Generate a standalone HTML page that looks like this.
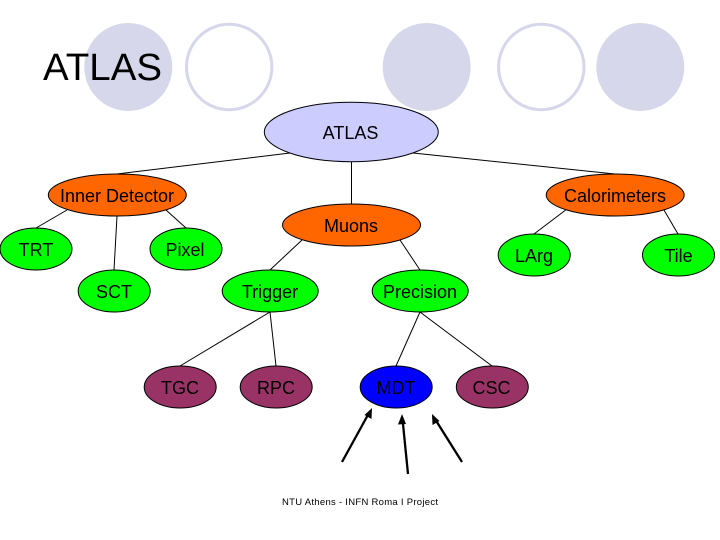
<!DOCTYPE html>
<html>
<head>
<meta charset="utf-8">
<style>
html,body{margin:0;padding:0;background:#fff;width:720px;height:540px;overflow:hidden}
svg{display:block}
text{font-family:"Liberation Sans",sans-serif;fill:#000;text-anchor:middle}
.n{font-size:18px}
ellipse.node{stroke:#000;stroke-width:1}
</style>
</head>
<body>
<svg width="720" height="540" viewBox="0 0 720 540" xmlns="http://www.w3.org/2000/svg">
<circle cx="128.3" cy="67" r="44" fill="#d7d7eb"/>
<circle cx="229.2" cy="67" r="42.7" fill="#fff" stroke="#d7d7eb" stroke-width="3"/>
<circle cx="426.7" cy="67" r="44" fill="#d7d7eb"/>
<circle cx="541.3" cy="67" r="42.7" fill="#fff" stroke="#d7d7eb" stroke-width="3"/>
<circle cx="640.3" cy="67" r="44" fill="#d7d7eb"/>
<text x="102.5" y="80" font-size="38" textLength="119" lengthAdjust="spacingAndGlyphs">ATLAS</text>

<g stroke="#000" stroke-width="1" fill="none">
<line x1="290" y1="153" x2="117" y2="174"/>
<line x1="413" y1="153" x2="615" y2="174"/>
<line x1="351.5" y1="162" x2="351.5" y2="204"/>
<line x1="67" y1="210" x2="36" y2="228"/>
<line x1="117" y1="216" x2="114" y2="270"/>
<line x1="166" y1="210" x2="186" y2="228"/>
<line x1="302" y1="240" x2="270" y2="270"/>
<line x1="400" y1="240" x2="420" y2="270"/>
<line x1="565.7" y1="210" x2="534" y2="234"/>
<line x1="664" y1="210" x2="678" y2="234"/>
<line x1="270" y1="312" x2="180" y2="366"/>
<line x1="270" y1="312" x2="276" y2="366"/>
<line x1="420" y1="312" x2="396" y2="366"/>
<line x1="420" y1="312" x2="492" y2="366"/>
</g>

<ellipse class="node" cx="351.3" cy="132" rx="87" ry="29.7" fill="#ccccff"/>
<ellipse class="node" cx="117.3" cy="195" rx="69" ry="21" fill="#ff6600"/>
<ellipse class="node" cx="615.2" cy="195" rx="69" ry="21" fill="#ff6600"/>
<ellipse class="node" cx="351.5" cy="225" rx="69" ry="21" fill="#ff6600"/>
<ellipse class="node" cx="36" cy="249" rx="36" ry="21" fill="#00ff00"/>
<ellipse class="node" cx="186" cy="249" rx="36" ry="21" fill="#00ff00"/>
<ellipse class="node" cx="534.2" cy="255" rx="36" ry="21" fill="#00ff00"/>
<ellipse class="node" cx="678.5" cy="255" rx="36" ry="21" fill="#00ff00"/>
<ellipse class="node" cx="114.2" cy="291" rx="36" ry="21" fill="#00ff00"/>
<ellipse class="node" cx="270.2" cy="291" rx="48" ry="21" fill="#00ff00"/>
<ellipse class="node" cx="420.2" cy="291" rx="48" ry="21" fill="#00ff00"/>
<ellipse class="node" cx="180.2" cy="387" rx="36" ry="21" fill="#993366"/>
<ellipse class="node" cx="276.2" cy="387" rx="36" ry="21" fill="#993366"/>
<ellipse class="node" cx="396.2" cy="387" rx="36" ry="21" fill="#0000ff"/>
<ellipse class="node" cx="492.3" cy="387" rx="36" ry="21" fill="#993366"/>

<text class="n" x="350.5" y="139">ATLAS</text>
<text class="n" x="117" y="202">Inner Detector</text>
<text class="n" x="615" y="202">Calorimeters</text>
<text class="n" x="351" y="232">Muons</text>
<text class="n" x="36" y="256">TRT</text>
<text class="n" x="185" y="256">Pixel</text>
<text class="n" x="534" y="262">LArg</text>
<text class="n" x="678.5" y="262">Tile</text>
<text class="n" x="114" y="298">SCT</text>
<text class="n" x="270" y="298">Trigger</text>
<text class="n" x="420" y="298">Precision</text>
<text class="n" x="180" y="394">TGC</text>
<text class="n" x="276" y="394">RPC</text>
<text class="n" x="396" y="394">MDT</text>
<text class="n" x="491.5" y="394">CSC</text>

<g stroke="#000" stroke-width="2.3" fill="none">
<line x1="342" y1="462" x2="369" y2="413"/>
<line x1="408" y1="474" x2="402.6" y2="420"/>
<line x1="462" y1="462" x2="435" y2="419"/>
</g>
<polygon points="372,408 371.5,419 364.5,415" fill="#000"/>
<polygon points="402,414 406,424 398,424.5" fill="#000"/>
<polygon points="432,414 439.5,421 432.5,425" fill="#000"/>

<text x="360" y="505" font-size="9.5" textLength="156" lengthAdjust="spacing">NTU Athens - INFN Roma I Project</text>
</svg>
</body>
</html>
